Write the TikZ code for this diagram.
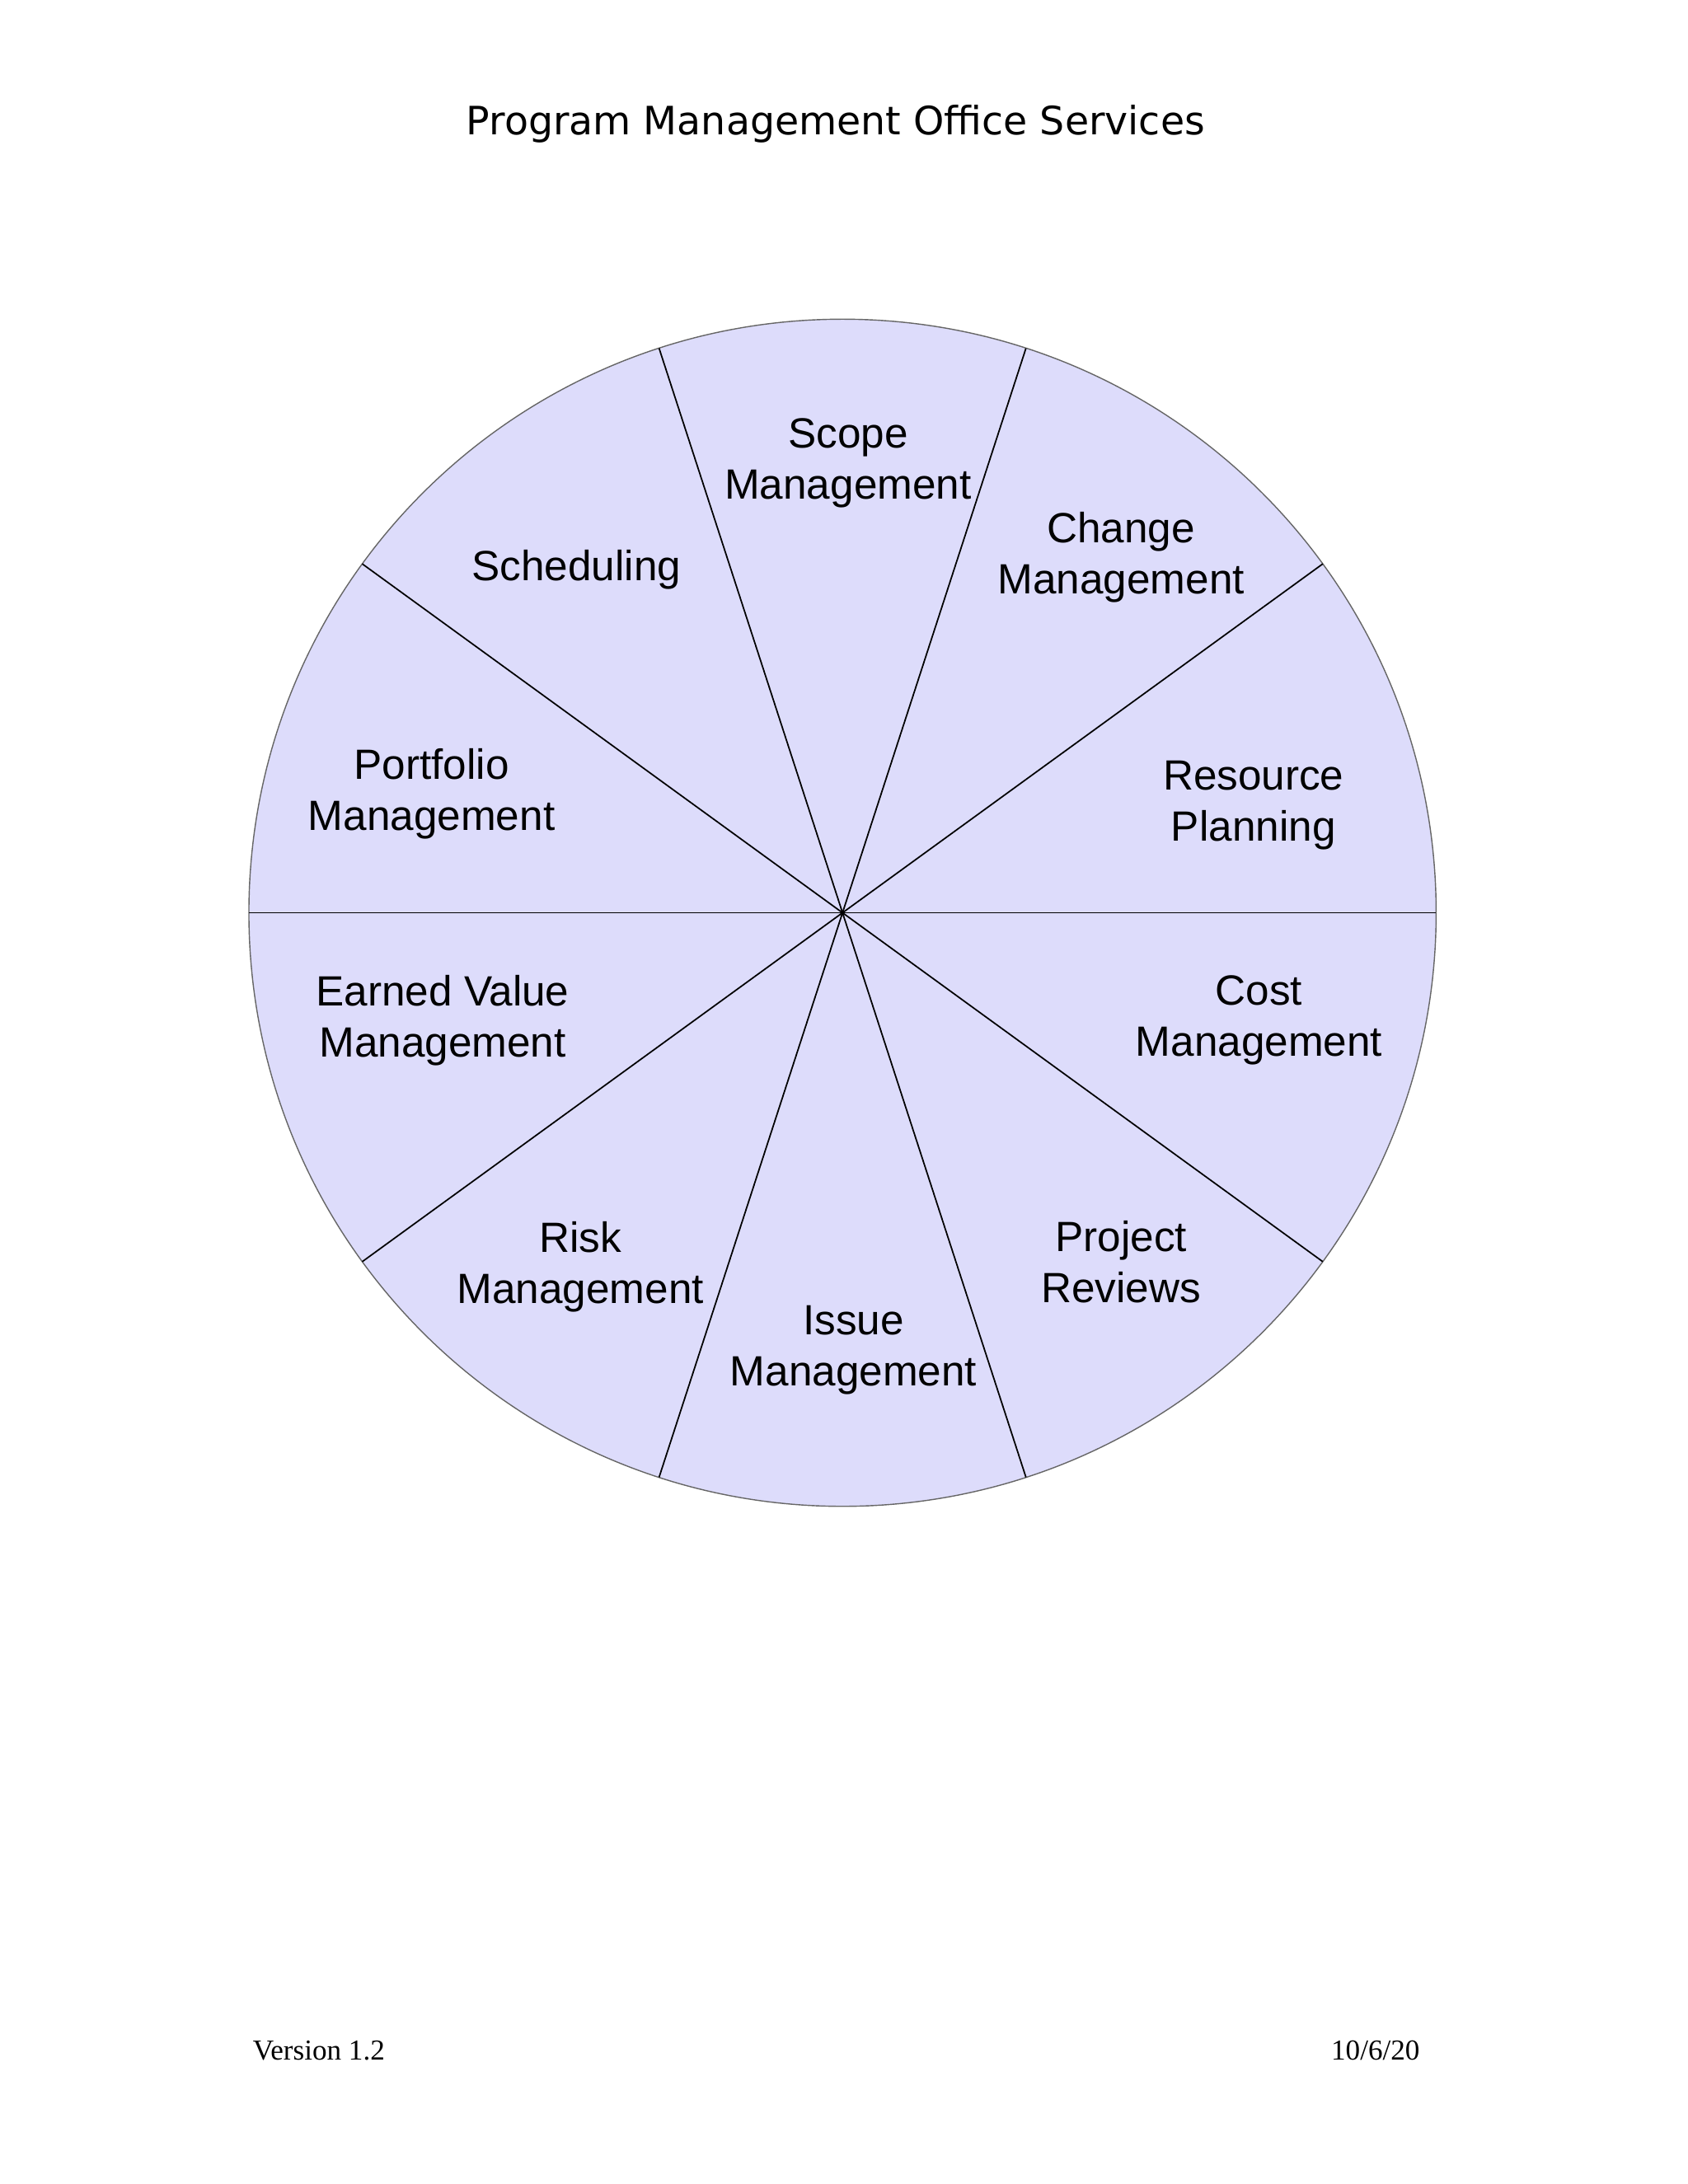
\documentclass[tikz,border=0pt]{standalone}
\usepackage{fontspec}
\setmainfont{Liberation Sans}
\newfontfamily\titlefont{DejaVu Sans}
\newfontfamily\footfont{Liberation Serif}
\definecolor{wheelfill}{HTML}{DDDCFB}
\begin{document}
\begin{tikzpicture}[x=0.016732cm,y=-0.016732cm]

\tikzstyle{service}=[align=center,font=\fontsize{14.6}{17.6}\selectfont]
\tikzstyle{spoke}=[draw=black,line width=0.5pt]

\useasboundingbox (0,0) rectangle (1224,1584);

%title and footer.
\node[font=\titlefont\fontsize{13.5}{16}\selectfont] (title) at (606,90) {Program Management Office Services};
\node[anchor=west,font=\footfont\fontsize{10}{12}\selectfont] (version) at (176,1487) {Version 1.2};
\node[anchor=east,font=\footfont\fontsize{10}{12}\selectfont] (date) at (1037,1487) {10/6/20};

%wheel.
\coordinate (hub) at (611,662);
\fill[wheelfill,draw=gray!80!black,line width=0.4pt] (hub) circle (430.5);
\foreach \a in {0,36,...,324}
  \draw[spoke] (hub) -- ++(\a:430.5);

%labels.
\node[service] (scope) at (615,336) {Scope\\Management};
\node[service] (change) at (813,404) {Change\\Management};
\node[service] (sched) at (418,413) {Scheduling};
\node[service] (portf) at (313,576) {Portfolio\\Management};
\node[service] (resource) at (909,584) {Resource\\Planning};
\node[service] (earned) at (321,740) {Earned Value\\Management};
\node[service] (cost) at (913,740) {Cost\\Management};
\node[service] (risk) at (421,919) {Risk\\Management};
\node[service] (review) at (813,915) {Project\\Reviews};
\node[service] (issue) at (619,979) {Issue\\Management};

\end{tikzpicture}
\end{document}
